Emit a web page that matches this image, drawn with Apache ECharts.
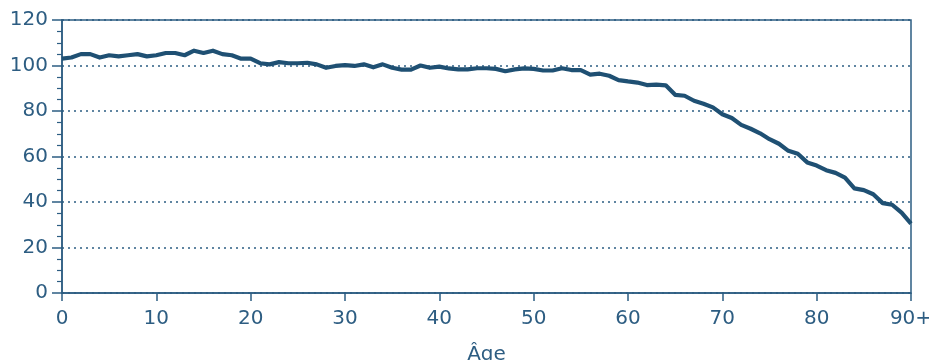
<!DOCTYPE html>
<html>
<head>
<meta charset="utf-8">
<script src="https://cdn.jsdelivr.net/npm/echarts@6/dist/echarts.min.js"></script>
<style>html,body{margin:0;padding:0;background:#fff;}#c{width:929px;height:360px;}</style>
</head>
<body>
<div id="c"></div>
<script>
var ages = [];
for (var a = 0; a <= 90; a++) ages.push(String(a));
var xTickLabels = {0:'0',10:'10',20:'20',30:'30',40:'40',50:'50',60:'60',70:'70',80:'80',90:'90+'};
var values = [
  103, 103.5, 105, 105, 103.5, 104.5, 104, 104.5, 105, 104,
  104.5, 105.5, 105.5, 104.5, 106.5, 105.5, 106.5, 105, 104.5, 103,
  103, 101, 100.5, 101.5, 101, 101, 101.2, 100.5, 99, 99.8,
  100.2, 99.8, 100.5, 99.2, 100.5, 99, 98.2, 98.2, 100, 99,
  99.5, 98.7, 98.3, 98.3, 98.8, 98.8, 98.5, 97.5, 98.3, 98.7,
  98.5, 97.8, 97.8, 98.8, 98, 98, 96, 96.4, 95.5, 93.6,
  93, 92.5, 91.4, 91.6, 91.3, 87.1, 86.7, 84.5, 83.2, 81.6,
  78.6, 76.9, 73.9, 72.2, 70.2, 67.6, 65.6, 62.5, 61.2, 57.4,
  56, 54, 52.8, 50.7, 46, 45.2, 43.4, 39.5, 38.8, 35.3,
  30.5
];
var yMin = 0, yMax = 120, yStep = 20;
var axisName = 'Âge';

var axisColor = '#2d5d82';
var textColor = '#2d5d82';
var lineColor = '#1f5073';
var fontFam = '"DejaVu Sans", sans-serif';

var chart = echarts.init(document.getElementById('c'), null, {renderer: 'canvas'});
chart.setOption({
  animation: false,
  grid: {left: 62, right: 18, top: 20, bottom: 67, outerBoundsMode: 'none', containLabel: false,
         show: true, borderColor: axisColor, borderWidth: 1.5, backgroundColor: 'transparent'},
  xAxis: {
    type: 'category',
    data: ages,
    boundaryGap: false,
    name: axisName,
    nameLocation: 'middle',
    nameGap: 52,
    nameTextStyle: {color: textColor, fontSize: 20, fontFamily: fontFam},
    axisLine: {lineStyle: {color: axisColor, width: 1.5}},
    axisTick: {
      length: 8,
      lineStyle: {color: axisColor, width: 1.5},
      interval: function (i) { return i % 10 === 0; }
    },
    axisLabel: {
      color: textColor, fontSize: 20, fontFamily: fontFam, margin: 16,
      interval: function (i) { return i % 10 === 0; },
      formatter: function (v, i) { return xTickLabels[i] || ''; }
    },
    splitLine: {show: false}
  },
  yAxis: {
    type: 'value',
    min: yMin, max: yMax, interval: yStep,
    axisLine: {show: true, lineStyle: {color: axisColor, width: 1.5}},
    axisTick: {show: true, length: 10, lineStyle: {color: axisColor, width: 1.5}},
    minorTick: {show: true, splitNumber: 4, length: 5, lineStyle: {color: axisColor, width: 1.2}},
    axisLabel: {color: textColor, fontSize: 20, fontFamily: fontFam, margin: 14},
    splitLine: {show: true, lineStyle: {color: axisColor, width: 1.5, type: [2, 4]}}
  },
  series: [{
    type: 'line',
    data: values,
    symbol: 'none',
    lineStyle: {color: lineColor, width: 4.2, join: 'round'},
    z: 3
  }]
});
</script>
</body>
</html>
